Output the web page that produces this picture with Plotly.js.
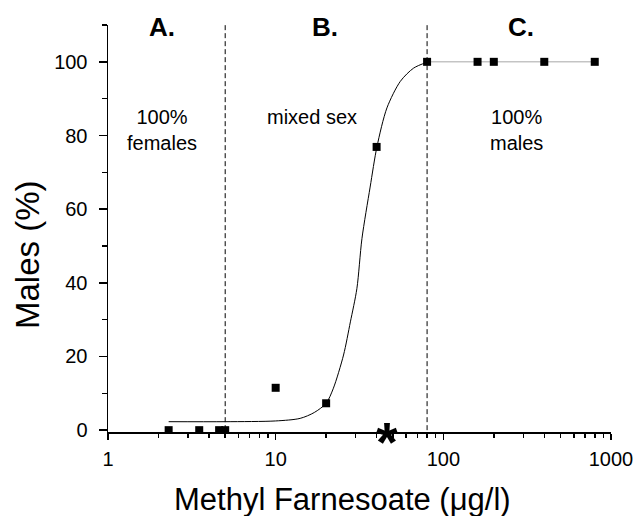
<!DOCTYPE html>
<html>
<head>
<meta charset="utf-8">
<script src="https://cdn.plot.ly/plotly-3.0.1.min.js"></script>
<style>html,body{margin:0;padding:0;background:#fff;}#chart{width:636px;height:516px;}</style>
</head>
<body>
<div id="chart"></div>
<script>
// Observed data (Methyl Farnesoate concentration, % males)
const doseX = [2.3, 3.5, 4.6, 5.0, 10, 20, 40, 80, 160, 200, 400, 800];
const malesY = [0, 0, 0, 0, 11.5, 7.3, 76.9, 100, 100, 100, 100, 100];

// Fitted curve
const fitX = [2.3, 5, 10, 14, 17, 20, 22.1, 25.4, 27.9, 30.5, 32.7, 36.6, 40.2, 46.1, 55.4, 66.5, 80];
const fitY = [2.3, 2.3, 2.5, 3.2, 4.8, 7.3, 11.4, 20.4, 29.4, 38.4, 52, 66, 77, 87.5, 94.7, 98.3, 99.9];

// Plateau line
const plateauX = [80, 800];
const plateauY = [100, 100];

// Region boundaries
const boundaryX = [5, 80];
const boundaryY = [0, 110];

// Asterisk marker
const starX = [46];
const starY = [0];

// Ticks
const xTickVals = [1, 10, 100, 1000];
const xTickText = ['1', '10', '100', '1000'];
const xMinorVals = [2,3,4,5,6,7,8,9,20,30,40,50,60,70,80,90,200,300,400,500,600,700,800,900];

// Titles
const xTitle = 'Methyl Farnesoate (μg/l)';
const yTitle = 'Males (%)';

// Region labels
const regionLabels = ['A.', 'B.', 'C.'];
const regionLabelX = [2.09, 19.6, 291];
const regionText = ['100%<br>females', 'mixed sex', '100%<br>males'];
const regionTextX = [2.1, 16.5, 275];
const regionTextY = [81.5, 85, 81.5];

const FONT = 'Arial, "Liberation Sans", Helvetica, sans-serif';

const traces = [
  {x: plateauX, y: plateauY, mode: 'lines', line: {color: '#a8a8a8', width: 1}, hoverinfo: 'skip', showlegend: false},
  {x: fitX, y: fitY, mode: 'lines', line: {color: '#000', width: 1, shape: 'spline', smoothing: 0.8}, hoverinfo: 'skip', showlegend: false},
  {x: [boundaryX[0], boundaryX[0]], y: boundaryY, mode: 'lines', line: {color: '#000', width: 1, dash: '5px,3px'}, hoverinfo: 'skip', showlegend: false},
  {x: [boundaryX[1], boundaryX[1]], y: boundaryY, mode: 'lines', line: {color: '#000', width: 1, dash: '5px,3px'}, hoverinfo: 'skip', showlegend: false},
  {x: doseX, y: malesY, mode: 'markers', marker: {symbol: 'square', size: 8, color: '#000'}, showlegend: false}
];

const annotations = [];
regionLabels.forEach((t, i) => annotations.push({
  x: Math.log10(regionLabelX[i]), y: 1, xref: 'x', yref: 'paper', yanchor: 'middle', yshift: -2,
  text: '<b>' + t + '</b>', showarrow: false, font: {family: FONT, size: 26, color: '#000'}
}));
regionText.forEach((t, i) => annotations.push({
  x: Math.log10(regionTextX[i]), y: regionTextY[i], xref: 'x', yref: 'y',
  text: t, showarrow: false, font: {family: FONT, size: 20, color: '#000'}
}));
annotations.push({
  x: Math.log10(starX[0]), y: starY[0], xref: 'x', yref: 'y', yanchor: 'middle', yshift: -11,
  text: '<b>*</b>', showarrow: false, font: {family: FONT, size: 56, color: '#000'}
});
// Axis titles
annotations.push({
  x: 0.467, y: -0.167, xref: 'paper', yref: 'paper', xanchor: 'center', yanchor: 'middle',
  text: xTitle, showarrow: false, font: {family: FONT, size: 31, color: '#000'}
});
annotations.push({
  x: -0.159, y: 0.435, xref: 'paper', yref: 'paper', xanchor: 'center', yanchor: 'middle',
  text: yTitle, textangle: -90, showarrow: false, font: {family: FONT, size: 33, color: '#000'}
});

const layout = {
  width: 636, height: 516,
  margin: {l: 108, r: 25, t: 25, b: 84},
  paper_bgcolor: '#fff', plot_bgcolor: '#fff',
  font: {family: FONT, color: '#000'},
  showlegend: false,
  xaxis: {
    type: 'log', range: [0, 3],
    tickmode: 'array', tickvals: xTickVals, ticktext: xTickText,
    ticks: 'outside', ticklen: 6, tickwidth: 1.5, tickcolor: '#000',
    minor: {tickmode: 'array', tickvals: xMinorVals, ticks: 'outside', ticklen: 4, tickwidth: 1.5, tickcolor: '#000', showgrid: false},
    showline: true, linecolor: '#000', linewidth: 1.5,
    showgrid: false, zeroline: false,
    tickfont: {family: FONT, size: 20, color: '#000'},
    ticklabelstandoff: 2
  },
  yaxis: {
    range: [-0.5, 110],
    tickmode: 'linear', tick0: 0, dtick: 20,
    ticks: 'outside', ticklen: 8, tickwidth: 1.5, tickcolor: '#000',
    minor: {tickmode: 'linear', tick0: 10, dtick: 20, ticks: 'outside', ticklen: 5, tickwidth: 1.5, tickcolor: '#000', showgrid: false},
    showline: true, linecolor: '#000', linewidth: 1.5,
    showgrid: false, zeroline: false,
    tickfont: {family: FONT, size: 20, color: '#000'},
    ticklabelstandoff: 7
  },
  annotations: annotations
};

Plotly.newPlot('chart', traces, layout, {displayModeBar: false, staticPlot: true});
</script>
</body>
</html>
